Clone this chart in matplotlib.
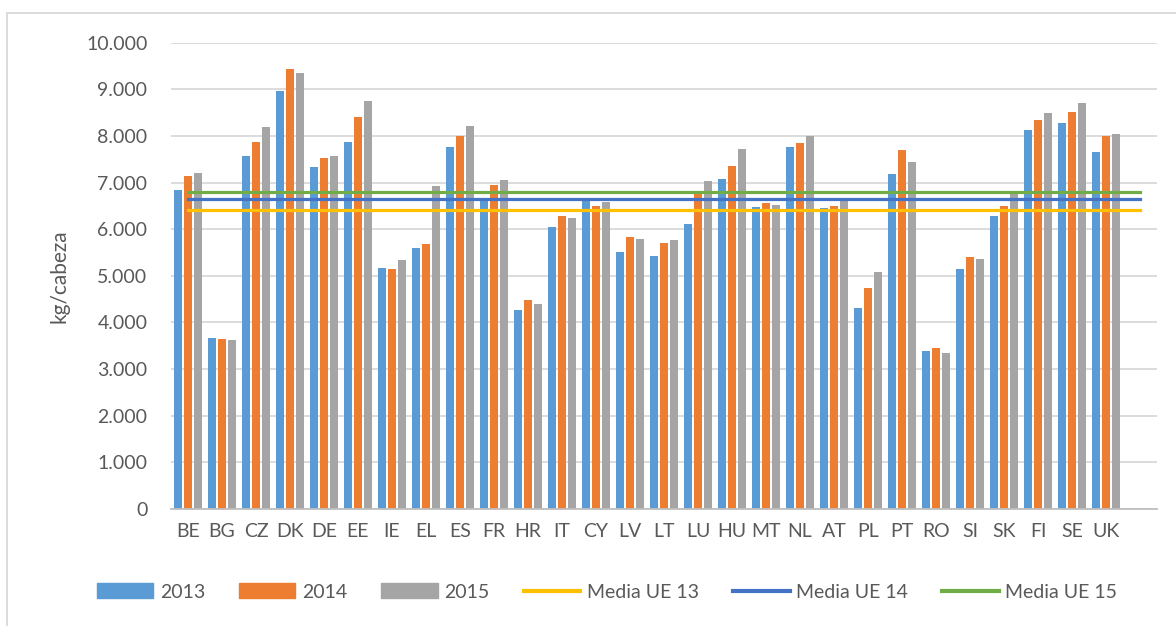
import numpy as np
import matplotlib
matplotlib.use("Agg")
import matplotlib.pyplot as plt
from matplotlib.ticker import FuncFormatter
from matplotlib.lines import Line2D

# Países (la última categoría queda vacía, como en el original)
paises = ["BE", "BG", "CZ", "DK", "DE", "EE", "IE", "EL", "ES", "FR", "HR", "IT",
          "CY", "LV", "LT", "LU", "HU", "MT", "NL", "AT", "PL", "PT", "RO", "SI",
          "SK", "FI", "SE", "UK", ""]

v2013 = [6836, 3664, 7579, 8957, 7336, 7864, 5164, 5607, 7757, 6640, 4264, 6050,
         6657, 5521, 5436, 6121, 7086, 6480, 7757, 6450, 4314, 7193, 3386, 5157,
         6286, 8129, 8286, 7657, np.nan]
v2014 = [7136, 3650, 7864, 9429, 7529, 8400, 5150, 5693, 8007, 6943, 4479, 6279,
         6493, 5829, 5700, 6779, 7350, 6571, 7857, 6493, 4729, 7693, 3443, 5400,
         6493, 8350, 8507, 7993, np.nan]
v2015 = [7207, 3629, 8193, 9357, 7579, 8757, 5350, 6929, 8207, 7050, 4386, 6250,
         6579, 5800, 5764, 7043, 7729, 6514, 7993, 6620, 5093, 7443, 3343, 5364,
         6800, 8500, 8700, 8050, np.nan]

media_ue_13 = 6414
media_ue_14 = 6657
media_ue_15 = 6800

azul = "#5B9BD5"
naranja = "#ED7D31"
gris = "#A5A5A5"
texto = "#595959"

plt.rcParams["font.family"] = ["Lato", "DejaVu Sans"]

fig = plt.figure(figsize=(11.76, 6.26), dpi=100)
ax = fig.add_axes([171 / 1176, 1 - 509 / 626, (1157 - 171) / 1176, (509 - 42.7) / 626])

x = np.arange(len(paises))
ancho = 0.245
desp = 0.3
ax.bar(x - desp, v2013, ancho, color=azul, zorder=2)
ax.bar(x, v2014, ancho, color=naranja, zorder=2)
ax.bar(x + desp, v2015, ancho, color=gris, zorder=2)

ax.plot(x, np.full(len(x), media_ue_13), color="#FFC000", lw=2.3, zorder=3)
ax.plot(x, np.full(len(x), media_ue_14), color="#4472C4", lw=2.3, zorder=3)
ax.plot(x, np.full(len(x), media_ue_15), color="#70AD47", lw=2.3, zorder=3)

ax.set_xlim(-0.5, len(paises) - 0.5)
ax.set_ylim(0, 10000)
ax.set_yticks(np.arange(0, 10001, 1000))
ax.yaxis.set_major_formatter(FuncFormatter(lambda v, p: f"{int(v):,}".replace(",", ".")))
ax.set_xticks(x)
ax.set_xticklabels(paises)

ax.grid(axis="y", color="#D9D9D9", lw=1.3, zorder=0)
for s in ["top", "right", "left"]:
    ax.spines[s].set_visible(False)
ax.spines["bottom"].set_color("#BFBFBF")
ax.spines["bottom"].set_linewidth(1.3)
ax.tick_params(axis="both", length=0, labelsize=14, colors=texto)
ax.tick_params(axis="y", pad=17)
ax.tick_params(axis="x", pad=10)
ax.set_ylabel("kg/cabeza", fontsize=15, color=texto, labelpad=12)

handles = [
    plt.Rectangle((0, 0), 1, 1, color=azul),
    plt.Rectangle((0, 0), 1, 1, color=naranja),
    plt.Rectangle((0, 0), 1, 1, color=gris),
    Line2D([], [], color="#FFC000", lw=3),
    Line2D([], [], color="#4472C4", lw=3),
    Line2D([], [], color="#70AD47", lw=3),
]
etiquetas = ["2013", "2014", "2015", "Media UE 13", "Media UE 14", "Media UE 15"]
leg = fig.legend(handles, etiquetas, loc="center", bbox_to_anchor=(607 / 1176, 1 - 592 / 626),
                 ncol=6, frameon=False, fontsize=14, handlelength=2.9, handleheight=0.8,
                 handletextpad=0.35, columnspacing=1.75)
for t in leg.get_texts():
    t.set_color(texto)

# Borde del área del gráfico
fig.add_artist(Line2D([7 / 1176, 1], [1 - 13 / 626, 1 - 13 / 626], color="#D9D9D9", lw=1.3,
                      transform=fig.transFigure))
fig.add_artist(Line2D([7 / 1176, 7 / 1176], [0, 1 - 13 / 626], color="#D9D9D9", lw=1.3,
                      transform=fig.transFigure))

fig.savefig("out.png", dpi=100)
